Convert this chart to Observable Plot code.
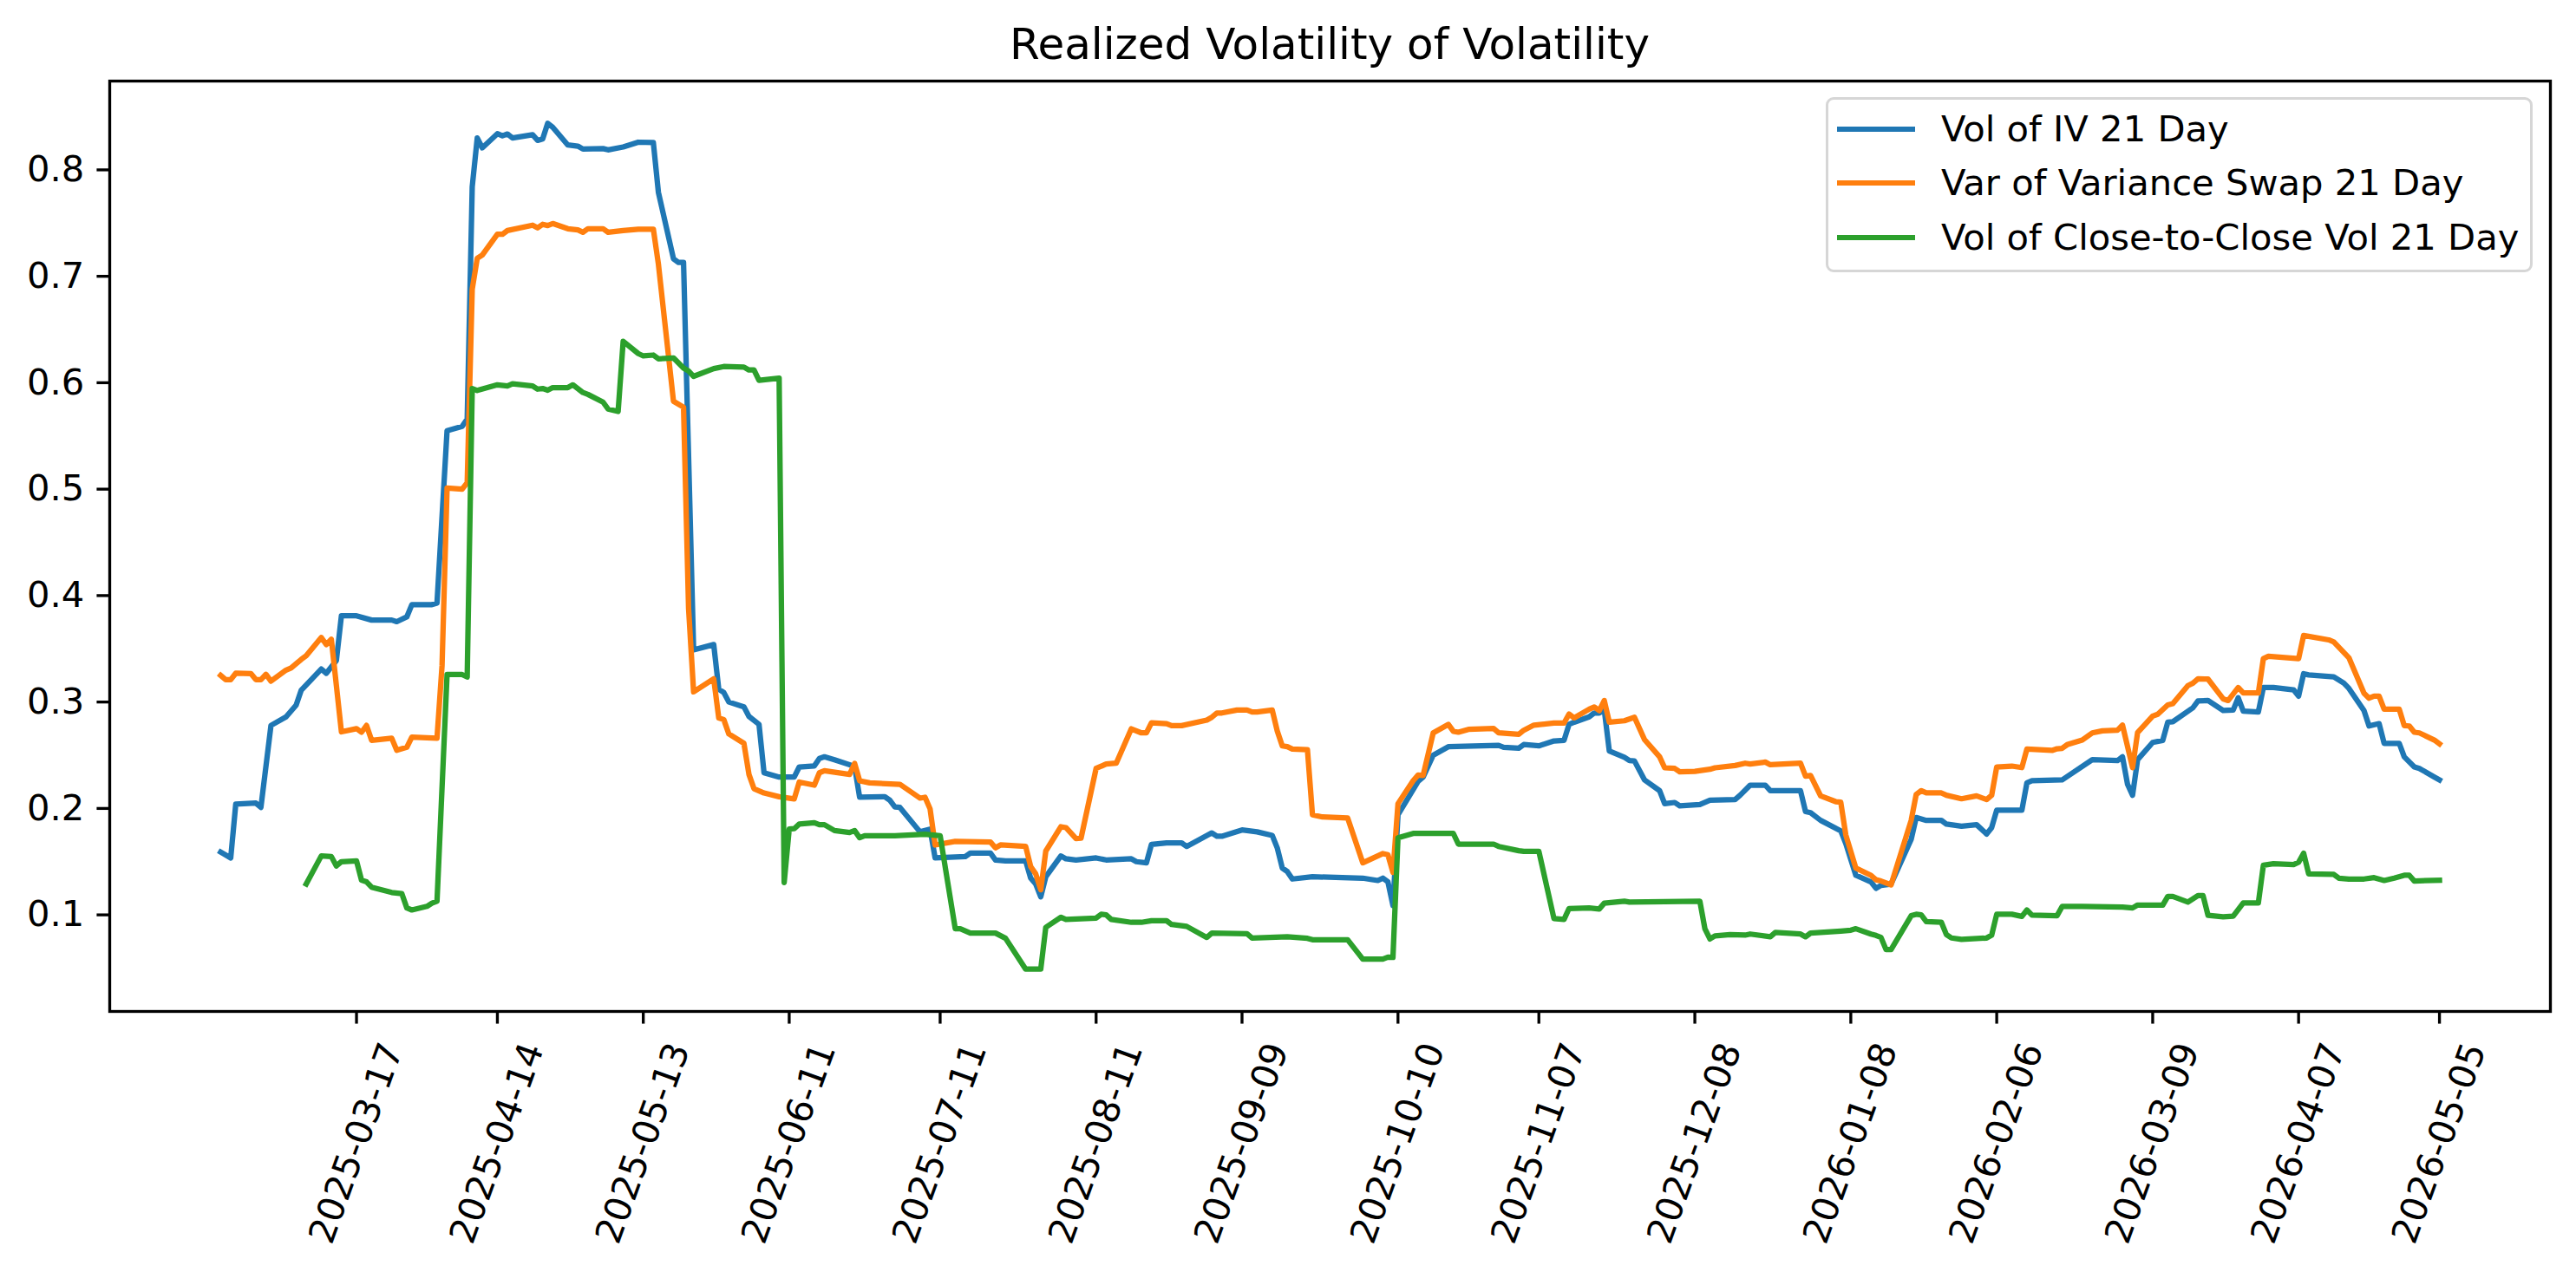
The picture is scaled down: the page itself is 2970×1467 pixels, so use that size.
<!DOCTYPE html>
<html>
<head>
<meta charset="utf-8">
<script src="https://cdn.jsdelivr.net/npm/d3@7"></script>
<script src="https://cdn.jsdelivr.net/npm/@observablehq/plot@0.6"></script>
<style>
  html, body { margin: 0; padding: 0; background: #ffffff; }
  #chart { position: relative; width: 2970px; height: 1467px; font-family: "DejaVu Sans", sans-serif; color: #000; }
  #title { position: absolute; left: 126px; width: 2814px; top: 26px; text-align: center; font-size: 50px; line-height: 50px; }
  #legend { position: absolute; left: 2105px; top: 112px; width: 809px; height: 196px; border: 3px solid #d6d6d6; border-radius: 9px; background: rgba(255,255,255,0.8); }
  .row { position: absolute; left: 0; height: 0; }
  .swatch { position: absolute; left: 10px; width: 90px; height: 6.25px; margin-top: -3.1px; }
  .label { position: absolute; left: 130px; font-size: 41.7px; line-height: 41.7px; margin-top: -21px; white-space: nowrap; }
  svg { position: absolute; left: 0; top: 0; }
</style>
</head>
<body>
<div id="chart">
  <div id="title">Realized Volatility of Volatility</div>
</div>
<script>
// Series names and colours
const seriesNames = ["Vol of IV 21 Day", "Var of Variance Swap 21 Day", "Vol of Close-to-Close Vol 21 Day"];
const seriesColors = ["#1f77b4", "#ff7f0e", "#2ca02c"];

// Vol of IV 21 Day
const ivDates = [
  "2025-02-18","2025-02-20","2025-02-21","2025-02-25","2025-02-26","2025-02-28","2025-03-03","2025-03-05","2025-03-06","2025-03-10",
  "2025-03-11","2025-03-13","2025-03-14","2025-03-17","2025-03-20","2025-03-24","2025-03-25","2025-03-27","2025-03-28","2025-04-01",
  "2025-04-02","2025-04-04","2025-04-07","2025-04-08","2025-04-09","2025-04-10","2025-04-11","2025-04-14","2025-04-15","2025-04-16",
  "2025-04-17","2025-04-21","2025-04-22","2025-04-23","2025-04-24","2025-04-25","2025-04-28","2025-04-30","2025-05-01","2025-05-05",
  "2025-05-06","2025-05-09","2025-05-12","2025-05-15","2025-05-16","2025-05-19","2025-05-20","2025-05-21","2025-05-23","2025-05-27",
  "2025-05-28","2025-05-29","2025-05-30","2025-06-02","2025-06-03","2025-06-05","2025-06-06","2025-06-09","2025-06-12","2025-06-13",
  "2025-06-16","2025-06-17","2025-06-18","2025-06-20","2025-06-24","2025-06-25","2025-06-30","2025-07-01","2025-07-02","2025-07-03",
  "2025-07-07","2025-07-09","2025-07-10","2025-07-16","2025-07-17","2025-07-21","2025-07-22","2025-07-24","2025-07-28","2025-07-29",
  "2025-07-30","2025-07-31","2025-08-01","2025-08-04","2025-08-05","2025-08-07","2025-08-11","2025-08-13","2025-08-18","2025-08-19",
  "2025-08-21","2025-08-22","2025-08-25","2025-08-28","2025-08-29","2025-09-03","2025-09-04","2025-09-05","2025-09-09","2025-09-12",
  "2025-09-15","2025-09-16","2025-09-17","2025-09-18","2025-09-19","2025-09-23","2025-10-03","2025-10-06","2025-10-07","2025-10-08",
  "2025-10-09","2025-10-10","2025-10-14","2025-10-15","2025-10-17","2025-10-20","2025-10-30","2025-10-31","2025-11-03","2025-11-04",
  "2025-11-07","2025-11-10","2025-11-12","2025-11-13","2025-11-14","2025-11-17","2025-11-18","2025-11-19","2025-11-20","2025-11-21",
  "2025-11-24","2025-11-25","2025-11-26","2025-11-28","2025-12-01","2025-12-02","2025-12-04","2025-12-05","2025-12-09","2025-12-11",
  "2025-12-16","2025-12-17","2025-12-19","2025-12-22","2025-12-23","2025-12-29","2025-12-30","2025-12-31","2026-01-02","2026-01-06",
  "2026-01-07","2026-01-09","2026-01-12","2026-01-13","2026-01-14","2026-01-16","2026-01-20","2026-01-21","2026-01-23","2026-01-26",
  "2026-01-27","2026-01-30","2026-02-02","2026-02-04","2026-02-05","2026-02-06","2026-02-11","2026-02-12","2026-02-13","2026-02-19",
  "2026-02-25","2026-03-02","2026-03-03","2026-03-04","2026-03-05","2026-03-06","2026-03-09","2026-03-11","2026-03-12","2026-03-13",
  "2026-03-17","2026-03-18","2026-03-20","2026-03-23","2026-03-25","2026-03-26","2026-03-27","2026-03-30","2026-03-31","2026-04-02",
  "2026-04-06","2026-04-07","2026-04-08","2026-04-09","2026-04-14","2026-04-16","2026-04-17","2026-04-20","2026-04-21","2026-04-23",
  "2026-04-24","2026-04-27","2026-04-28","2026-04-30","2026-05-01","2026-05-04","2026-05-05"
];
const ivValues = [
  0.159,0.1535,0.204,0.205,0.201,0.278,0.286,0.297,0.311,0.331,
  0.327,0.339,0.381,0.381,0.377,0.377,0.3755,0.380,0.3915,0.3915,
  0.393,0.555,0.559,0.566,0.784,0.830,0.8207,0.834,0.832,0.8337,
  0.830,0.833,0.8277,0.829,0.8437,0.840,0.8234,0.8223,0.8196,0.820,
  0.8188,0.8215,0.826,0.8256,0.779,0.7165,0.713,0.713,0.349,0.354,
  0.312,0.309,0.300,0.2955,0.2865,0.279,0.2335,0.2295,0.2295,0.239,
  0.240,0.247,0.2485,0.2457,0.2395,0.2105,0.211,0.2077,0.2015,0.201,
  0.178,0.1806,0.1535,0.1548,0.158,0.158,0.1516,0.1507,0.1507,0.1345,
  0.129,0.117,0.1358,0.1554,0.1527,0.1516,0.1535,0.1516,0.1527,0.150,
  0.1489,0.1662,0.1676,0.1676,0.1643,0.177,0.1739,0.1739,0.1798,0.178,
  0.1747,0.163,0.144,0.1407,0.1337,0.1358,0.1345,0.1323,0.1345,0.131,
  0.1087,0.194,0.2254,0.2295,0.250,0.258,0.2593,0.2575,0.2566,0.260,
  0.2588,0.2634,0.264,0.279,0.281,0.286,0.2897,0.2897,0.2927,0.254,
  0.248,0.245,0.2446,0.2268,0.2167,0.2045,0.2056,0.2024,0.2037,0.2077,
  0.2083,0.2124,0.2219,0.2219,0.2167,0.2167,0.197,0.196,0.1888,0.179,
  0.167,0.1372,0.131,0.125,0.1277,0.129,0.171,0.1915,0.1888,0.1888,
  0.1853,0.1833,0.1847,0.176,0.182,0.1983,0.1983,0.224,0.226,0.2268,
  0.2458,0.245,0.2485,0.2227,0.2124,0.2458,0.262,0.264,0.281,0.2815,
  0.2946,0.301,0.3014,0.292,0.2925,0.304,0.2914,0.2906,0.3136,0.3136,
  0.3115,0.3055,0.3266,0.3255,0.3237,0.3177,0.3128,0.292,0.2775,0.2797,
  0.2612,0.2612,0.2485,0.239,0.2376,0.2295,0.2268
];

// Var of Variance Swap 21 Day
const vsDates = [
  "2025-02-18","2025-02-19","2025-02-20","2025-02-21","2025-02-24","2025-02-25","2025-02-26","2025-02-27","2025-02-28","2025-03-03",
  "2025-03-04","2025-03-06","2025-03-07","2025-03-10","2025-03-11","2025-03-12","2025-03-14","2025-03-17","2025-03-18","2025-03-19",
  "2025-03-20","2025-03-24","2025-03-25","2025-03-27","2025-03-28","2025-04-02","2025-04-03","2025-04-04","2025-04-07","2025-04-08",
  "2025-04-09","2025-04-10","2025-04-11","2025-04-14","2025-04-15","2025-04-16","2025-04-21","2025-04-22","2025-04-23","2025-04-24",
  "2025-04-25","2025-04-28","2025-04-30","2025-05-01","2025-05-02","2025-05-05","2025-05-06","2025-05-09","2025-05-12","2025-05-15",
  "2025-05-16","2025-05-19","2025-05-21","2025-05-22","2025-05-23","2025-05-27","2025-05-28","2025-05-29","2025-05-30","2025-06-02",
  "2025-06-03","2025-06-04","2025-06-06","2025-06-09","2025-06-12","2025-06-13","2025-06-16","2025-06-17","2025-06-18","2025-06-23",
  "2025-06-24","2025-06-25","2025-06-27","2025-07-03","2025-07-07","2025-07-08","2025-07-09","2025-07-10","2025-07-14","2025-07-21",
  "2025-07-22","2025-07-23","2025-07-28","2025-07-29","2025-07-30","2025-07-31","2025-08-01","2025-08-04","2025-08-05","2025-08-07",
  "2025-08-08","2025-08-11","2025-08-13","2025-08-15","2025-08-18","2025-08-20","2025-08-21","2025-08-22","2025-08-25","2025-08-26",
  "2025-08-28","2025-09-02","2025-09-03","2025-09-04","2025-09-05","2025-09-08","2025-09-10","2025-09-11","2025-09-12","2025-09-15",
  "2025-09-16","2025-09-17","2025-09-18","2025-09-19","2025-09-22","2025-09-23","2025-09-25","2025-09-30","2025-10-03","2025-10-07",
  "2025-10-08","2025-10-09","2025-10-10","2025-10-13","2025-10-14","2025-10-15","2025-10-17","2025-10-20","2025-10-21","2025-10-22",
  "2025-10-24","2025-10-29","2025-10-30","2025-11-03","2025-11-04","2025-11-06","2025-11-10","2025-11-12","2025-11-13","2025-11-14",
  "2025-11-17","2025-11-18","2025-11-19","2025-11-20","2025-11-21","2025-11-24","2025-11-26","2025-11-28","2025-12-01","2025-12-02",
  "2025-12-04","2025-12-05","2025-12-08","2025-12-11","2025-12-12","2025-12-16","2025-12-18","2025-12-19","2025-12-22","2025-12-23",
  "2025-12-29","2025-12-30","2025-12-31","2026-01-02","2026-01-05","2026-01-06","2026-01-07","2026-01-09","2026-01-12","2026-01-13",
  "2026-01-14","2026-01-16","2026-01-20","2026-01-21","2026-01-22","2026-01-23","2026-01-26","2026-01-27","2026-01-30","2026-02-02",
  "2026-02-04","2026-02-05","2026-02-06","2026-02-09","2026-02-11","2026-02-12","2026-02-17","2026-02-18","2026-02-19","2026-02-20",
  "2026-02-23","2026-02-25","2026-02-27","2026-03-02","2026-03-03","2026-03-05","2026-03-06","2026-03-09","2026-03-10","2026-03-12",
  "2026-03-13","2026-03-16","2026-03-17","2026-03-18","2026-03-20","2026-03-23","2026-03-24","2026-03-26","2026-03-27","2026-03-30",
  "2026-03-31","2026-04-01","2026-04-07","2026-04-08","2026-04-13","2026-04-14","2026-04-17","2026-04-20","2026-04-21","2026-04-22",
  "2026-04-23","2026-04-24","2026-04-27","2026-04-28","2026-04-29","2026-04-30","2026-05-01","2026-05-04","2026-05-05"
];
const vsValues = [
  0.325,0.321,0.321,0.327,0.3267,0.321,0.321,0.326,0.3196,0.330,
  0.332,0.340,0.3435,0.3606,0.354,0.359,0.272,0.275,0.2716,0.278,
  0.264,0.266,0.2547,0.2575,0.267,0.266,0.334,0.501,0.500,0.506,
  0.688,0.717,0.720,0.7395,0.7395,0.743,0.748,0.7455,0.7488,0.7477,
  0.7496,0.7447,0.7436,0.7414,0.7447,0.7447,0.7414,0.743,0.7443,0.7443,
  0.7116,0.5826,0.577,0.388,0.3095,0.3218,0.285,0.2835,0.270,0.2612,
  0.232,0.2186,0.2145,0.211,0.209,0.2248,0.2219,0.2335,0.2354,0.232,
  0.2423,0.226,0.224,0.2227,0.2097,0.2105,0.1996,0.1657,0.169,0.1684,
  0.163,0.1657,0.1643,0.1454,0.1385,0.1236,0.160,0.1828,0.182,0.1717,
  0.172,0.2376,0.2417,0.2425,0.2748,0.271,0.271,0.2805,0.2797,0.2778,
  0.2778,0.283,0.2857,0.2897,0.2897,0.2925,0.2925,0.2906,0.2906,0.2925,
  0.2729,0.2588,0.258,0.2558,0.2553,0.194,0.192,0.191,0.1489,0.1576,
  0.1565,0.140,0.2045,0.226,0.2314,0.231,0.271,0.279,0.2725,0.2716,
  0.2743,0.2751,0.271,0.2696,0.2735,0.2783,0.2802,0.2802,0.2887,0.2851,
  0.2933,0.2954,0.2919,0.3014,0.281,0.2824,0.2857,0.2647,0.2485,0.2382,
  0.2376,0.2344,0.2349,0.2368,0.2382,0.2403,0.2425,0.2417,0.2436,0.2411,
  0.2425,0.2303,0.231,0.2118,0.2064,0.2059,0.1752,0.144,0.1372,0.133,
  0.1318,0.1282,0.1888,0.2132,0.2167,0.2146,0.2146,0.2124,0.2091,0.2118,
  0.2083,0.2124,0.239,0.2398,0.2384,0.2558,0.2545,0.2561,0.2565,0.2599,
  0.2642,0.271,0.2729,0.2735,0.2783,0.2383,0.2713,0.2868,0.2885,0.2973,
  0.2985,0.3154,0.3177,0.3218,0.3215,0.303,0.3014,0.3136,0.3085,0.3085,
  0.3408,0.343,0.3408,0.3625,0.3584,0.3565,0.3416,0.3082,0.3036,0.3055,
  0.3055,0.2933,0.2933,0.2778,0.2775,0.2716,0.271,0.2642,0.2607
];

// Vol of Close-to-Close Vol 21 Day
const ccDates = [
  "2025-03-07","2025-03-10","2025-03-12","2025-03-13","2025-03-14","2025-03-17","2025-03-18","2025-03-19","2025-03-20","2025-03-24",
  "2025-03-26","2025-03-27","2025-03-28","2025-03-31","2025-04-01","2025-04-02","2025-04-04","2025-04-07","2025-04-08","2025-04-09",
  "2025-04-10","2025-04-14","2025-04-16","2025-04-17","2025-04-21","2025-04-22","2025-04-23","2025-04-24","2025-04-25","2025-04-28",
  "2025-04-29","2025-05-01","2025-05-02","2025-05-05","2025-05-06","2025-05-08","2025-05-09","2025-05-12","2025-05-13","2025-05-15",
  "2025-05-16","2025-05-19","2025-05-21","2025-05-22","2025-05-23","2025-05-27","2025-05-29","2025-06-02","2025-06-03","2025-06-04",
  "2025-06-05","2025-06-09","2025-06-10","2025-06-11","2025-06-12","2025-06-13","2025-06-16","2025-06-17","2025-06-18","2025-06-20",
  "2025-06-23","2025-06-24","2025-06-25","2025-06-26","2025-07-02","2025-07-08","2025-07-11","2025-07-14","2025-07-15","2025-07-17",
  "2025-07-22","2025-07-24","2025-07-28","2025-07-31","2025-08-01","2025-08-04","2025-08-05","2025-08-11","2025-08-12","2025-08-13",
  "2025-08-14","2025-08-18","2025-08-20","2025-08-22","2025-08-25","2025-08-26","2025-08-29","2025-09-02","2025-09-03","2025-09-10",
  "2025-09-11","2025-09-18","2025-09-22","2025-09-23","2025-09-30","2025-10-03","2025-10-07","2025-10-08","2025-10-09","2025-10-10",
  "2025-10-13","2025-10-21","2025-10-22","2025-10-29","2025-10-30","2025-11-03","2025-11-04","2025-11-07","2025-11-10","2025-11-12",
  "2025-11-13","2025-11-17","2025-11-19","2025-11-20","2025-11-24","2025-11-25","2025-12-09","2025-12-10","2025-12-11","2025-12-12",
  "2025-12-15","2025-12-18","2025-12-19","2025-12-23","2025-12-24","2025-12-29","2025-12-30","2025-12-31","2026-01-06","2026-01-08",
  "2026-01-09","2026-01-12","2026-01-13","2026-01-14","2026-01-15","2026-01-16","2026-01-20","2026-01-21","2026-01-22","2026-01-23",
  "2026-01-26","2026-01-27","2026-01-28","2026-01-30","2026-02-04","2026-02-05","2026-02-06","2026-02-09","2026-02-11","2026-02-12",
  "2026-02-13","2026-02-18","2026-02-19","2026-02-23","2026-03-03","2026-03-05","2026-03-06","2026-03-11","2026-03-12","2026-03-13",
  "2026-03-16","2026-03-18","2026-03-19","2026-03-20","2026-03-23","2026-03-25","2026-03-27","2026-03-30","2026-03-31","2026-04-02",
  "2026-04-06","2026-04-07","2026-04-08","2026-04-09","2026-04-14","2026-04-15","2026-04-17","2026-04-20","2026-04-22","2026-04-24",
  "2026-04-26","2026-04-28","2026-04-29","2026-04-30","2026-05-05"
];
const ccValues = [
  0.129,0.1554,0.1548,0.146,0.150,0.1507,0.1326,0.131,0.126,0.121,
  0.120,0.1065,0.1046,0.108,0.111,0.1128,0.3258,0.3258,0.3235,0.5946,
  0.5927,0.598,0.597,0.599,0.597,0.594,0.5946,0.593,0.5954,0.5954,
  0.598,0.5908,0.589,0.5818,0.5753,0.573,0.6389,0.6274,0.6252,0.626,
  0.6225,0.6233,0.6138,0.611,0.606,0.6133,0.6152,0.6147,0.612,0.612,
  0.6022,0.6043,0.1304,0.1806,0.181,0.1853,0.1866,0.1847,0.1847,0.1792,
  0.1774,0.1792,0.1725,0.1744,0.1744,0.1757,0.1744,0.087,0.087,0.0829,
  0.0829,0.078,0.049,0.049,0.0883,0.0978,0.0957,0.097,0.1006,0.100,
  0.0957,0.093,0.093,0.0945,0.0945,0.091,0.0892,0.0788,0.0829,0.0823,
  0.0783,0.0794,0.078,0.0766,0.0766,0.0585,0.0585,0.0603,0.060,0.1725,
  0.1765,0.1765,0.1665,0.1665,0.1643,0.1603,0.1597,0.1597,0.0965,0.0957,
  0.106,0.1065,0.1055,0.111,0.1128,0.112,0.1128,0.087,0.0774,0.0802,
  0.0815,0.081,0.082,0.0794,0.0835,0.082,0.0794,0.0829,0.0848,0.0856,
  0.087,0.082,0.0807,0.0788,0.0674,0.0674,0.0992,0.1006,0.100,0.0937,
  0.093,0.0815,0.0783,0.077,0.0783,0.081,0.1006,0.1006,0.0986,0.1046,
  0.0998,0.0992,0.1079,0.1079,0.1073,0.1065,0.1092,0.1092,0.1173,0.1173,
  0.112,0.1182,0.1182,0.0996,0.0981,0.0988,0.1112,0.1112,0.1467,0.148,
  0.1472,0.1494,0.158,0.1385,0.138,0.1345,0.1337,0.1337,0.135,0.1323,
  0.1345,0.1372,0.1372,0.1318,0.1326
];

// Axis ticks
const xTickDates = [
  "2025-03-17","2025-04-14","2025-05-13","2025-06-11","2025-07-11","2025-08-11","2025-09-09","2025-10-10",
  "2025-11-07","2025-12-08","2026-01-08","2026-02-06","2026-03-09","2026-04-07","2026-05-05"
];
const yTicks = [0.1, 0.2, 0.3, 0.4, 0.5, 0.6, 0.7, 0.8];

// Build the long-format table for the line marks
const parseDate = d3.utcParse("%Y-%m-%d");
const seriesData = [[ivDates, ivValues], [vsDates, vsValues], [ccDates, ccValues]];
const rows = seriesData.flatMap(([dates, values], i) =>
  dates.map((d, j) => ({series: seriesNames[i], date: parseDate(d), value: values[j]}))
);

// Domains padded by 5% of the data range on each side
const [x0, x1] = d3.extent(rows, d => d.date);
const xPad = (x1 - x0) * 0.05;
const [y0, y1] = d3.extent(rows, d => d.value);
const yPad = (y1 - y0) * 0.05;

const px = 300 / 72; // points to pixels

const chart = Plot.plot({
  width: 2970,
  height: 1467,
  marginTop: 93,
  marginBottom: 301,
  marginLeft: 126,
  marginRight: 30,
  style: {fontFamily: "DejaVu Sans", fontSize: `${10 * px}px`, background: "white", color: "black", overflow: "visible"},
  x: {type: "utc", domain: [new Date(+x0 - xPad), new Date(+x1 + xPad)]},
  y: {domain: [y0 - yPad, y1 + yPad]},
  color: {domain: seriesNames, range: seriesColors},
  marks: [
    Plot.line(rows, {x: "date", y: "value", z: "series", stroke: "series", strokeWidth: 1.5 * px, strokeLinejoin: "round", strokeLinecap: "square"}),
    Plot.frame({stroke: "black", strokeWidth: 0.8 * px}),
    Plot.axisY({
      ticks: yTicks, tickFormat: d3.format(".1f"), tickSize: 3.5 * px, tickPadding: 3.5 * px,
      strokeWidth: 0.8 * px, label: null, fontSize: 10 * px
    }),
    Plot.axisX({
      ticks: xTickDates.map(parseDate), tickFormat: d3.utcFormat("%Y-%m-%d"),
      tickSize: 3.5 * px, tickPadding: 137.4, tickRotate: -70,
      textAnchor: "middle", lineAnchor: "middle",
      strokeWidth: 0.8 * px, label: null, fontSize: 10 * px
    })
  ]
});

const container = document.getElementById("chart");
container.insertBefore(chart, container.firstChild);

// Legend box in the upper-right corner of the axes
const legend = document.createElement("div");
legend.id = "legend";
const rowTops = [34, 96, 159];
seriesNames.forEach((name, i) => {
  const row = document.createElement("div");
  row.className = "row";
  row.style.top = rowTops[i] + "px";
  const sw = document.createElement("div");
  sw.className = "swatch";
  sw.style.background = seriesColors[i];
  const lab = document.createElement("div");
  lab.className = "label";
  lab.textContent = name;
  row.appendChild(sw);
  row.appendChild(lab);
  legend.appendChild(row);
});
container.appendChild(legend);
</script>
</body>
</html>
